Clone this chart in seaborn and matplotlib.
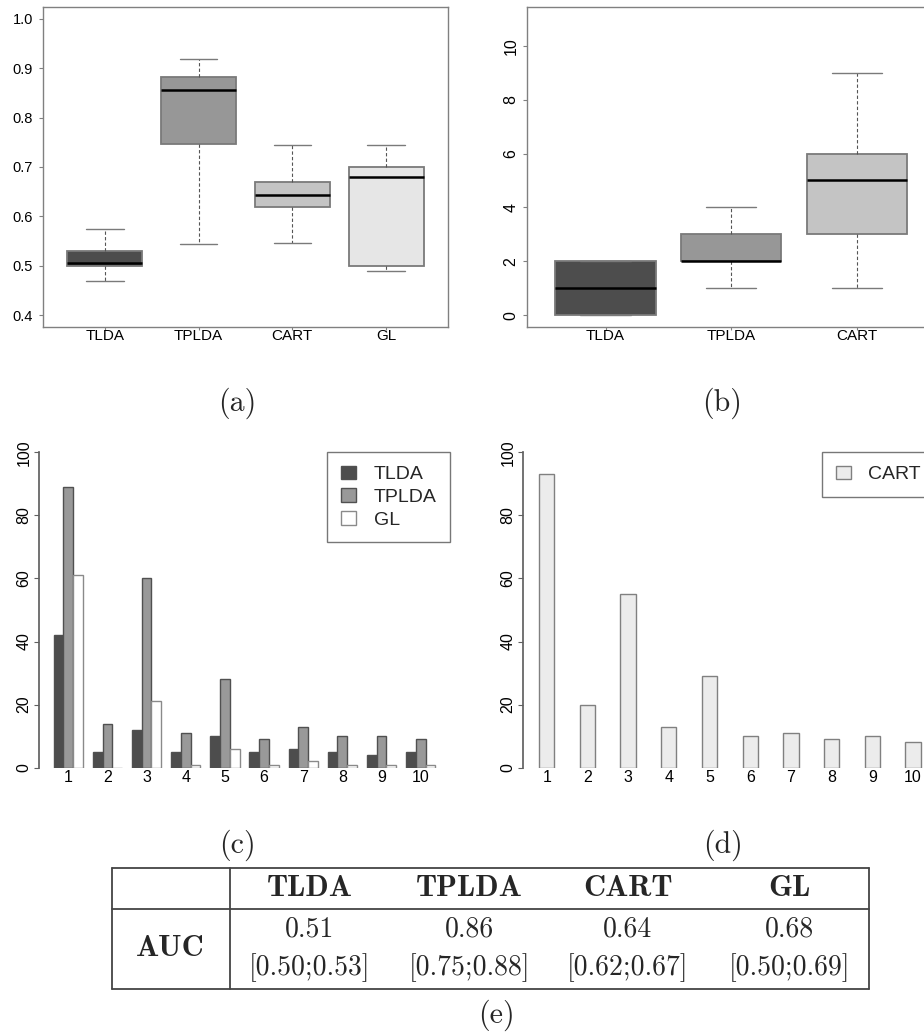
import numpy as np
import pandas as pd
import matplotlib
matplotlib.use("Agg")
import matplotlib.pyplot as plt
import seaborn as sns
from matplotlib.lines import Line2D

# ---------------- data ----------------
methods = ["TLDA", "TPLDA", "CART", "GL"]
# (a) AUC distribution: min, q1, median, q3, max
auc_tlda = [0.469, 0.500, 0.505, 0.530, 0.574]
auc_tplda = [0.545, 0.746, 0.856, 0.882, 0.918]
auc_cart = [0.547, 0.618, 0.643, 0.670, 0.744]
auc_gl = [0.489, 0.500, 0.680, 0.699, 0.744]
# (b) number of selected variables: min, q1, median, q3, max
nv_methods = ["TLDA", "TPLDA", "CART"]
nv_tlda = [0, 0, 1, 2, 2]
nv_tplda = [1, 2, 2, 3, 4]
nv_cart = [1, 3, 5, 6, 9]
# (c), (d) selection frequency by variable
var_idx = [1, 2, 3, 4, 5, 6, 7, 8, 9, 10]
freq_tlda = [42, 5, 12, 5, 10, 5, 6, 5, 4, 5]
freq_tplda = [89, 14, 60, 11, 28, 9, 13, 10, 10, 9]
freq_gl = [61, 0, 21, 1, 6, 1, 2, 1, 1, 1]
freq_cart = [93, 20, 55, 13, 29, 10, 11, 9, 10, 8]
# (e) table
tab_median = ["0.51", "0.86", "0.64", "0.68"]
tab_ci = ["[0.50;0.53]", "[0.75;0.88]", "[0.62;0.67]", "[0.50;0.69]"]

# ---------------- style ----------------
sns.set_theme(style="ticks")
plt.rcParams["font.family"] = ["Liberation Sans", "DejaVu Sans"]
W, H = 924, 1033
fig = plt.figure(figsize=(W / 100, H / 100), dpi=100)
fig.patch.set_facecolor("white")

def fx(px):
    return px / W

def fy(py):
    return 1 - py / H

def add_ax(l, t, r, b):
    return fig.add_axes([fx(l), fy(b), (r - l) / W, (b - t) / H])

gray_line = "#7a7a7a"
box_pal = {"TLDA": "#4d4d4d", "TPLDA": "#979797", "CART": "#c4c4c4", "GL": "#e6e6e6"}
box_kw = dict(width=0.8, whis=(0, 100), saturation=1, linecolor=gray_line, linewidth=1.3,
              medianprops=dict(color="black", linewidth=1.8),
              whiskerprops=dict(linestyle=(0, (3, 2)), linewidth=0.8, color="#555555"),
              capprops=dict(linewidth=1.0), legend=False)

# ---------------- (a) ----------------
ax_a = add_ax(43, 7, 448, 327)
df_a = pd.DataFrame({"method": np.repeat(methods, 5),
                     "auc": np.concatenate([auc_tlda, auc_tplda, auc_cart, auc_gl])})
sns.boxplot(data=df_a, x="method", y="auc", hue="method", order=methods,
            hue_order=methods, palette=box_pal, ax=ax_a, **box_kw)
ax_a.set_xlim(-0.66, 3.66)
ax_a.set_ylim(0.376, 1.024)
ax_a.set_yticks([0.4, 0.5, 0.6, 0.7, 0.8, 0.9, 1.0])
ax_a.set_yticklabels(["0.4", "0.5", "0.6", "0.7", "0.8", "0.9", "1.0"])
ax_a.set_xlabel("")
ax_a.set_ylabel("")
for s in ax_a.spines.values():
    s.set_color("#808080")
    s.set_linewidth(1.0)
ax_a.tick_params(axis="y", length=3.2, width=0.8, color="#808080", pad=4, labelsize=10.5, labelcolor="black")
ax_a.tick_params(axis="x", length=2.5, width=0.8, color="#808080", pad=-1, labelsize=11, labelcolor="black")

# ---------------- (b) ----------------
ax_b = add_ax(527, 7, 1061, 327)
df_b = pd.DataFrame({"method": np.repeat(nv_methods, 5),
                     "nvar": np.concatenate([nv_tlda, nv_tplda, nv_cart])})
sns.boxplot(data=df_b, x="method", y="nvar", hue="method", order=nv_methods,
            hue_order=nv_methods, palette=box_pal, ax=ax_b, **box_kw)
ax_b.set_xlim(-0.625, 3.625)
ax_b.set_ylim(-0.44, 11.44)
ax_b.set_yticks([0, 2, 4, 6, 8, 10])
ax_b.set_yticklabels(["0", "2", "4", "6", "8", "10"], rotation=90, va="center")
ax_b.set_xlabel("")
ax_b.set_ylabel("")
for s in ax_b.spines.values():
    s.set_color("#808080")
    s.set_linewidth(1.0)
ax_b.tick_params(axis="y", length=3.2, width=0.8, color="#808080", pad=3, labelsize=11.5, labelcolor="black")
ax_b.tick_params(axis="x", length=2.5, width=0.8, color="#808080", pad=-1, labelsize=11, labelcolor="black")

# ---------------- (c) ----------------
ax_c = add_ax(39.3, 452.3, 450, 767.7)
df_c = pd.DataFrame({"var": np.tile(var_idx, 3),
                     "freq": np.concatenate([freq_tlda, freq_tplda, freq_gl]),
                     "method": np.repeat(["TLDA", "TPLDA", "GL"], len(var_idx))})
bar_pal = {"TLDA": "#4d4d4d", "TPLDA": "#999999", "GL": "#ffffff"}
sns.barplot(data=df_c, x="var", y="freq", hue="method", order=var_idx,
            hue_order=["TLDA", "TPLDA", "GL"], palette=bar_pal, width=0.75,
            saturation=1, errorbar=None, edgecolor="#505050", linewidth=1.0,
            legend=False, ax=ax_c)
for p in ax_c.containers[2].patches:
    p.set_edgecolor("#8a8a8a")
ax_c.set_xlim(-0.741, 9.75)
ax_c.set_ylim(0, 100)
ax_c.set_yticks([0, 20, 40, 60, 80, 100])
ax_c.set_yticklabels(["0", "20", "40", "60", "80", "100"], rotation=90, va="center")
ax_c.set_xlabel("")
ax_c.set_ylabel("")
for k in ["top", "right", "bottom"]:
    ax_c.spines[k].set_visible(False)
ax_c.spines["left"].set_color("#606060")
ax_c.tick_params(axis="y", length=3.5, width=0.8, color="#606060", pad=2, labelsize=11.5, labelcolor="black")
ax_c.tick_params(axis="x", length=0, pad=1.5, labelsize=11.5, labelcolor="black")
ax_c.patch.set_alpha(0)
leg_c = ax_c.legend(ax_c.containers, ["TLDA", "TPLDA", "GL"], loc="upper right",
                    bbox_to_anchor=(fx(450), fy(452)), bbox_transform=fig.transFigure,
                    fontsize=14, frameon=True, fancybox=False, edgecolor="#777777",
                    framealpha=1, handlelength=0.77, handleheight=0.72,
                    handletextpad=0.9, labelspacing=0.25, borderpad=0.7, borderaxespad=0)
leg_c.get_frame().set_linewidth(1.0)

# ---------------- (d) ----------------
ax_d = add_ax(523.3, 452.3, 933, 767.7)
df_d = pd.DataFrame({"var": var_idx, "freq": freq_cart})
sns.barplot(data=df_d, x="var", y="freq", order=var_idx, color="#ececec", width=0.376,
            saturation=1, errorbar=None, edgecolor="#808080", linewidth=1.0, ax=ax_d,
            label="CART")
ax_d.set_xlim(-0.575, 9.49)
ax_d.set_ylim(0, 100)
ax_d.set_yticks([0, 20, 40, 60, 80, 100])
ax_d.set_yticklabels(["0", "20", "40", "60", "80", "100"], rotation=90, va="center")
ax_d.set_xlabel("")
ax_d.set_ylabel("")
for k in ["top", "right", "bottom"]:
    ax_d.spines[k].set_visible(False)
ax_d.spines["left"].set_color("#606060")
ax_d.tick_params(axis="y", length=3.5, width=0.8, color="#606060", pad=2, labelsize=11.5, labelcolor="black")
ax_d.tick_params(axis="x", length=0, pad=1.5, labelsize=11.5, labelcolor="black")
ax_d.patch.set_alpha(0)
leg_d = ax_d.legend(ax_d.containers[:1], ["CART"], loc="upper left",
                    bbox_to_anchor=(fx(822), fy(452)), bbox_transform=fig.transFigure,
                    fontsize=14, frameon=True, fancybox=False, edgecolor="#777777",
                    framealpha=1, handlelength=0.77, handleheight=0.72,
                    handletextpad=0.9, labelspacing=0.25, borderpad=0.7, borderaxespad=0)
leg_d.get_frame().set_linewidth(1.0)

# ---------------- captions ----------------
cap_kw = dict(ha="center", va="center", fontsize=21.5, family="cmr10")
fig.text(fx(237), fy(403), "(a)", **cap_kw)
fig.text(fx(722), fy(403), "(b)", **cap_kw)
fig.text(fx(237), fy(845), "(c)", **cap_kw)
fig.text(fx(723), fy(845), "(d)", **cap_kw)
fig.text(fx(496), fy(1015), "(e)", **cap_kw)

# ---------------- (e) table ----------------
tcol = "#444444"
tlw = 1.3
t_left, t_right, t_div = 112, 869, 230
t_top, t_mid, t_bot = 868, 909, 989
for yy in (t_top, t_mid, t_bot):
    fig.add_artist(Line2D([fx(t_left), fx(t_right)], [fy(yy), fy(yy)],
                          transform=fig.transFigure, color=tcol, lw=tlw))
for xx in (t_left, t_div, t_right):
    fig.add_artist(Line2D([fx(xx), fx(xx)], [fy(t_top), fy(t_bot)],
                          transform=fig.transFigure, color=tcol, lw=tlw))
col_x = [310, 469, 628, 789]
for xx, name, med, ci in zip(col_x, methods, tab_median, tab_ci):
    fig.text(fx(xx), fy(888), name, ha="center", va="center", fontsize=22, family="cmb10")
    fig.text(fx(xx), fy(929), med, ha="center", va="center", fontsize=20, family="cmr10")
    fig.text(fx(xx), fy(968), ci, ha="center", va="center", fontsize=20, family="cmr10")
fig.text(fx(170), fy(948), "AUC", ha="center", va="center", fontsize=22, family="cmb10")

fig.savefig("out.png", dpi=100)
